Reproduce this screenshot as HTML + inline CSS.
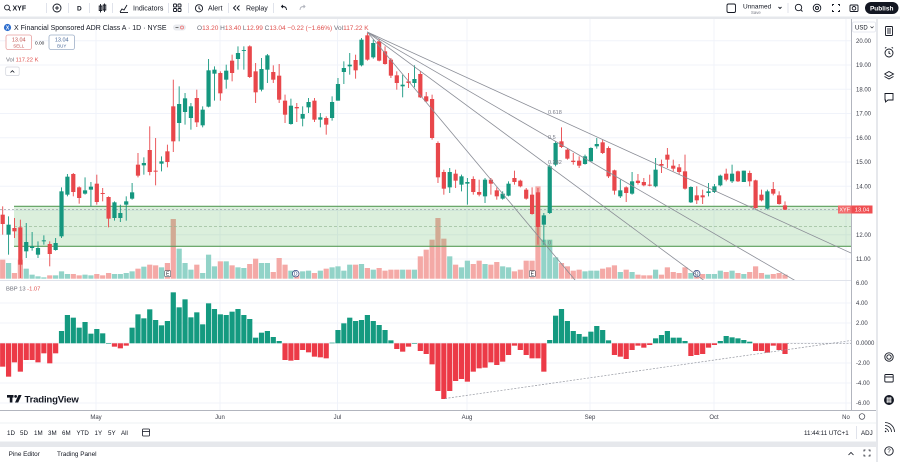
<!DOCTYPE html>
<html><head><meta charset="utf-8">
<style>
html,body{margin:0;padding:0;background:#fff;}
body{width:900px;height:462px;overflow:hidden;}
svg text{font-family:"Liberation Sans",sans-serif;}
</style></head><body>
<svg id="s" width="900" height="462" viewBox="0 0 900 462" xmlns="http://www.w3.org/2000/svg">
<defs>
<clipPath id="cm"><rect x="0" y="19" width="851" height="261"/></clipPath>
<clipPath id="ci"><rect x="0" y="281" width="851" height="129"/></clipPath>
</defs>
<rect x="0" y="0" width="900" height="462" fill="#fff"/>
<!-- gaps -->
<rect x="0" y="16.5" width="900" height="2.5" fill="#e6e8ec"/>
<rect x="876" y="16.5" width="2" height="446" fill="#e6e8ec"/>
<rect x="0" y="441.5" width="876" height="5.5" fill="#e6e8ec"/>

<!-- toolbar -->
<g fill="none" stroke="#131722" stroke-width="0.9">
<circle cx="7" cy="7.5" r="2.4"/><line x1="8.8" y1="9.3" x2="10.6" y2="11.1"/>
<circle cx="57" cy="8" r="4"/><line x1="55" y1="8" x2="59" y2="8"/><line x1="57" y1="6" x2="57" y2="10"/>
<line x1="100.5" y1="4" x2="100.5" y2="12.5"/><rect x="99.2" y="6" width="2.6" height="4.5"/>
<line x1="104.5" y1="3.5" x2="104.5" y2="12"/><rect x="103.2" y="5" width="2.6" height="5"/>
<polyline points="120,12 122,9 124,10 127,5"/><line x1="120" y1="12.5" x2="128" y2="12.5"/>
<rect x="173.5" y="4" width="3" height="3" rx="0.8"/><rect x="178" y="4" width="3" height="3" rx="0.8"/>
<rect x="173.5" y="8.5" width="3" height="3" rx="0.8"/><rect x="178" y="8.5" width="3" height="3" rx="0.8"/>
<circle cx="199" cy="8.3" r="3.6"/><polyline points="199,6.3 199,8.5 200.6,9.5"/>
<polyline points="236,5.5 233.5,8 236,10.5"/><polyline points="239.5,5.5 237,8 239.5,10.5"/>
<path d="M286.5 10 Q286.5 6.5 283 6.5 L281.5 6.5 M283 5 L281.5 6.5 L283 8"/>
<path d="M300 10 Q300 6.5 303.5 6.5 L305 6.5 M303.5 5 L305 6.5 L303.5 8" stroke="#b2b5be"/>
<rect x="727" y="4" width="8.5" height="8.5" rx="1.5"/>
<polyline points="778.5,7 780,8.5 781.5,7"/>
<circle cx="798.5" cy="7.5" r="3.2"/><line x1="800.8" y1="9.8" x2="802.5" y2="11.5"/>
<circle cx="817" cy="8" r="3.8"/><circle cx="817" cy="8" r="1.5"/>
<path d="M832.5 6 V4.5 H834 M838 4.5 H839.5 V6 M839.5 10 V11.5 H838 M834 11.5 H832.5 V10"/>
<rect x="850" y="5" width="8" height="6.5" rx="1"/><circle cx="854" cy="8.3" r="1.8"/>
</g>
<g stroke="#e0e3eb" stroke-width="1">
<line x1="46.5" y1="3" x2="46.5" y2="13"/><line x1="68.5" y1="3" x2="68.5" y2="13"/>
<line x1="89.5" y1="3" x2="89.5" y2="13"/><line x1="112.5" y1="3" x2="112.5" y2="13"/>
<line x1="168.5" y1="3" x2="168.5" y2="13"/><line x1="188.5" y1="3" x2="188.5" y2="13"/>
<line x1="228.5" y1="3" x2="228.5" y2="13"/><line x1="273.5" y1="3" x2="273.5" y2="13"/>
<line x1="788" y1="3" x2="788" y2="13"/>
</g>
<g fill="#131722" font-size="7">
<text x="12.5" y="10.3" font-weight="bold">XYF</text>
<text x="77" y="10.3" font-weight="bold" font-size="6.5">D</text>
<text x="133" y="10.3">Indicators</text>
<text x="208" y="10.3">Alert</text>
<text x="246" y="10.3">Replay</text>
<text x="743" y="8.5" font-size="6.5">Unnamed</text>
<text x="751" y="14" font-size="4.3" fill="#787b86">Save</text>
</g>
<rect x="865" y="2" width="33.5" height="12" rx="6" fill="#131722"/>
<text x="881.7" y="10.3" font-size="6.5" font-weight="bold" fill="#fff" text-anchor="middle">Publish</text>

<!-- right sidebar icons -->
<g fill="none" stroke="#131722" stroke-width="0.9">
<rect x="885.5" y="26.5" width="7" height="9" rx="0.8"/><line x1="887" y1="29" x2="891" y2="29"/><line x1="887" y1="31" x2="891" y2="31"/><line x1="887" y1="33" x2="891" y2="33"/>
<circle cx="889" cy="53" r="4"/><polyline points="889,51 889,53.3 890.5,54"/><line x1="885" y1="48.3" x2="886.3" y2="47.2"/><line x1="893" y1="48.3" x2="891.7" y2="47.2"/>
<polyline points="884.5,74 889,71.5 893.5,74 889,76.5 884.5,74"/><polyline points="884.5,76.5 889,79 893.5,76.5"/>
<path d="M885 93.5 H893 V100 H888 L885.5 102 V100 H885 Z"/>
<circle cx="889" cy="357" r="4.2"/><circle cx="889" cy="357" r="2.2"/>
<rect x="884.8" y="374.5" width="8.4" height="7.5" rx="1"/><line x1="884.8" y1="377" x2="893.2" y2="377"/>
<path d="M885 428.5 A3.5 3.5 0 0 1 888.5 432 M885 425.5 A6.5 6.5 0 0 1 891.5 432 M885 422.5 A9.5 9.5 0 0 1 894.5 432" stroke-width="0.8"/>
<circle cx="889" cy="451" r="4.2"/>
</g>
<circle cx="885.6" cy="431.4" r="0.8" fill="#131722"/>
<circle cx="889" cy="400" r="5" fill="#131722"/>
<g stroke="#fff" stroke-width="0.7"><line x1="886.5" y1="398.2" x2="891.5" y2="398.2"/><line x1="886.5" y1="400" x2="891.5" y2="400"/><line x1="886.5" y1="401.8" x2="891.5" y2="401.8"/><line x1="887.2" y1="397" x2="887.2" y2="403"/><line x1="889" y1="397" x2="889" y2="403"/><line x1="890.8" y1="397" x2="890.8" y2="403"/></g>
<text x="889" y="453.2" font-size="6" fill="#131722" text-anchor="middle">?</text>

<!-- grids -->
<g id="grid" stroke="#f0f3fa" stroke-width="1"></g>
<g id="vol" clip-path="url(#cm)"></g>
<g id="zone" clip-path="url(#cm)"></g>
<g id="cand" clip-path="url(#cm)"></g>
<g id="fan" clip-path="url(#cm)" stroke="#8a8d96" stroke-width="0.8" fill="none"></g>
<g id="bbp" clip-path="url(#ci)"></g>

<!-- pane borders -->
<line x1="0" y1="280.5" x2="851" y2="280.5" stroke="#e0e3eb"/>
<line x1="851.5" y1="19" x2="851.5" y2="410" stroke="#b2b5be" stroke-width="1"/>
<line x1="0" y1="410.5" x2="876" y2="410.5" stroke="#b2b5be" stroke-width="1"/>
<line x1="0" y1="423" x2="876" y2="423" stroke="#eef0f3"/>
<line x1="856.5" y1="426" x2="856.5" y2="439" stroke="#e0e3eb"/>

<!-- legend -->
<circle cx="7.5" cy="27.5" r="3.6" fill="#2f6fce"/>
<text x="7.5" y="29.6" font-size="5" fill="#fff" text-anchor="middle" font-weight="bold">X</text>
<text x="14" y="30" font-size="7" fill="#131722">X Financial Sponsored ADR Class A · 1D · NYSE</text>
<rect x="173" y="24.5" width="13" height="6" rx="3" fill="#e9ebef"/>
<line x1="175.5" y1="27.5" x2="178.5" y2="27.5" stroke="#555" stroke-width="0.8"/>
<circle cx="182" cy="27.5" r="1.5" fill="none" stroke="#f06a6a" stroke-width="0.7"/>
<text x="197" y="30" font-size="6.5" fill="#e0504d"><tspan fill="#6a6d78">O</tspan>13.20 <tspan fill="#6a6d78">H</tspan>13.40 <tspan fill="#6a6d78">L</tspan>12.99 <tspan fill="#6a6d78">C</tspan>13.04 −0.22 (−1.66%) <tspan fill="#6a6d78">Vol</tspan>117.22 K</text>
<rect x="6" y="35" width="25.5" height="14.5" rx="2" fill="#fff" stroke="#e8a0a0" stroke-width="0.8"/>
<text x="18.7" y="41.5" font-size="5.5" fill="#c0504d" text-anchor="middle">13.04</text>
<text x="18.7" y="47.5" font-size="4.5" fill="#c0504d" text-anchor="middle">SELL</text>
<text x="35" y="44.5" font-size="4.8" fill="#131722">0.00</text>
<rect x="49" y="35" width="25.5" height="14.5" rx="2" fill="#fff" stroke="#9fb0c8" stroke-width="0.8"/>
<text x="61.7" y="41.5" font-size="5.5" fill="#4a6a9a" text-anchor="middle">13.04</text>
<text x="61.7" y="47.5" font-size="4.5" fill="#4a6a9a" text-anchor="middle">BUY</text>
<text x="6" y="61.5" font-size="5.8" fill="#6a6d78">Vol <tspan fill="#e0504d">117.22 K</tspan></text>
<rect x="5.7" y="67" width="13.5" height="8.5" rx="1.5" fill="#fff" stroke="#d1d4dc" stroke-width="0.7"/>
<polyline points="10.5,72.5 12.4,70.7 14.3,72.5" fill="none" stroke="#131722" stroke-width="0.8"/>
<text x="6" y="290.5" font-size="5.8" fill="#6a6d78">BBP 13 <tspan fill="#e0504d">-1.07</tspan></text>

<!-- TradingView logo -->
<g fill="#131722">
<rect x="7" y="395" width="6.5" height="2.6"/><rect x="9.8" y="395" width="2.6" height="7.5"/>
<circle cx="15.6" cy="396.4" r="1.4"/><polygon points="18.5,395 21.6,395 18.2,402.5 15,402.5"/>
</g>
<text x="24.5" y="402.5" font-size="9.6" fill="#131722" font-weight="bold" letter-spacing="-0.2">TradingView</text>

<!-- axis labels -->
<g id="axl" font-size="6" fill="#3a3d48"></g>
<rect x="852.5" y="22" width="23" height="10" rx="1.5" fill="#fff" stroke="#e0e3eb" stroke-width="0.7"/>
<text x="855" y="29.5" font-size="6" fill="#131722">USD</text>
<polyline points="870.5,26.5 872,28 873.5,26.5" fill="none" stroke="#131722" stroke-width="0.6"/>

<!-- time axis -->
<g font-size="6" fill="#3a3d48" text-anchor="middle">
<text x="96" y="419">May</text><text x="220" y="419">Jun</text><text x="337.5" y="419">Jul</text>
<text x="467" y="419">Aug</text><text x="590" y="419">Sep</text><text x="714" y="419">Oct</text><text x="846" y="419">No</text>
</g>
<circle cx="862" cy="416.5" r="2.8" fill="none" stroke="#3a3d48" stroke-width="0.7"/>
<g font-size="6.2" fill="#131722">
<text x="7" y="435">1D</text><text x="20" y="435">5D</text><text x="34" y="435">1M</text><text x="48" y="435">3M</text>
<text x="62" y="435">6M</text><text x="76.5" y="435">YTD</text><text x="94.5" y="435">1Y</text><text x="108" y="435">5Y</text><text x="121" y="435">All</text>
<text x="804" y="435">11:44:11 UTC+1</text><text x="861" y="435">ADJ</text>
</g>
<g fill="none" stroke="#131722" stroke-width="0.8">
<rect x="142.5" y="429" width="7" height="7" rx="0.8"/><line x1="142.5" y1="431.5" x2="149.5" y2="431.5"/>
<polyline points="848.5,455 851,452.5 853.5,455"/>
<path d="M864 451.5 V450 H865.5 M868.5 450 H870 V451.5 M870 454.5 V456 H868.5 M865.5 456 H864 V454.5"/>
</g>
<g font-size="6.4" fill="#131722">
<text x="8.6" y="456">Pine Editor</text><text x="57" y="456">Trading Panel</text>
</g>
</svg>
<script>
(function(){
var NS="http://www.w3.org/2000/svg";
function el(tag,a,p,t){var e=document.createElementNS(NS,tag);for(var k in a)e.setAttribute(k,a[k]);if(t!=null)e.textContent=t;p.appendChild(e);return e;}
var g=function(id){return document.getElementById(id);};
var S=5.882,X0=2.7;
function xi(i){return X0+i*S;}
function zy(z){return 28+z/3;}
var TEAL="#15977f",RED="#e8474b";
var grid=g("grid"),axl=g("axl");
var vx=[96,220,337.5,467,590,714,846];
vx.forEach(function(x){el("line",{x1:x,y1:19,x2:x,y2:410},grid);});
for(var k=0;k<10;k++){var y=40.7+k*24.25;el("line",{x1:0,y1:y,x2:851,y2:y},grid);el("text",{x:856,y:y+2.1},axl,(20-k).toFixed(2));}
var il=["6.00","4.00","2.00","0.0000","-2.00","-4.00","-6.00"];
for(var k=0;k<7;k++){var y=283+k*20;if(k>0)el("line",{x1:0,y1:y,x2:851,y2:y},grid);el("text",{x:856,y:y+2.1},axl,il[k]);}
var C=[[560,588,535,620,0],[590,620,565,680,1],[600,610,570,630,0],[598,710,575,750,0],[642,670,585,690,1],[655,660,612,668,1],[660,680,640,690,1],[637,640,622,650,1],[648,678,640,715,0],[645,666,630,668,1],
[490,625,478,630,1],[446,500,438,505,1],[438,492,435,505,0],[478,510,475,527,0],[487,497,448,500,1],[476,485,462,535,1],[467,522,440,530,0],[495,498,480,520,0],[507,572,505,598,0],[523,570,520,578,1],
[555,570,530,582,1],[520,530,505,578,1],[493,512,465,515,1],[410,443,375,448,0],[405,412,388,440,1],[366,432,295,442,0],[428,431,330,472,0],[400,407,385,430,1],[370,402,350,418,0],[235,340,155,372,0],
[228,285,175,340,1],[211,252,195,290,1],[235,270,225,305,1],[210,283,185,297,0],[245,292,235,298,1],[127,236,93,238,1],[125,137,115,218,1],[135,196,130,218,0],[128,155,110,182,1],[98,135,80,160,0],
[75,93,55,125,1],[66,68,55,125,1],[55,147,52,150,0],[130,193,105,225,0],[123,185,90,190,1],[82,125,78,165,1],[132,155,112,165,0],[143,215,108,225,0],[218,260,200,285,0],[233,288,212,290,1],
[237,241,225,282,0],[258,272,235,295,1],[222,238,210,255,1],[218,275,210,282,0],[268,275,255,298,1],[270,290,265,320,0],[222,270,205,278,1],[168,218,150,218,1],[120,132,100,168,1],[110,115,75,140,1],
[96,127,80,152,0],[35,112,30,115,1],[22,95,15,98,0],[45,88,35,92,1],[40,98,32,100,0],[70,108,55,110,0],[95,143,90,150,0],[142,165,130,185,0],[170,175,140,208,1],[160,165,135,180,0],
[153,165,112,178,1],[138,208,130,210,0],[205,220,192,222,0],[213,330,200,335,0],[345,448,340,465,0],[432,482,425,500,0],[432,478,420,495,1],[437,458,425,480,0],[445,470,440,490,1],[462,467,450,530,1],
[453,492,445,500,0],[492,500,455,505,0],[455,505,450,525,1],[455,467,450,500,0],[487,505,478,515,0],[497,512,490,515,1],[467,503,460,505,1],[450,462,428,470,0],[458,475,455,478,0],[485,512,480,515,0],
[500,558,478,560,0],[493,597,480,650,0],[562,590,555,650,1],[415,555,410,558,1],[345,410,340,415,1],[340,357,298,360,0],[365,392,360,395,0],[398,402,375,410,0],[398,413,385,420,0],[385,408,380,410,1],
[360,400,358,402,1],[348,355,330,362,1],[343,375,335,378,0],[360,445,355,450,0],[427,488,425,500,0],[487,505,455,510,1],[478,495,475,522,0],[460,497,432,500,1],[458,465,438,470,0],[462,472,450,475,0],
[470,473,440,475,0],[425,475,390,478,1],[408,413,395,435,0],[380,395,360,420,0],[413,422,395,430,0],[418,432,408,440,0],[430,482,380,485,0],[477,523,475,525,1],[502,517,475,528,0],[502,508,485,528,0],
[490,495,465,505,1],[475,492,468,495,1],[443,472,440,475,1],[437,455,422,460,0],[437,460,410,465,1],[430,460,428,462,0],[428,462,428,462,1],[435,460,428,475,0],[457,540,455,542,0],[500,517,485,520,0],
[490,542,485,545,1],[483,497,462,502,0],[502,528,490,530,0],[532,545,520,546,0]];
var V=[695,705,735,695,722,740,745,748,742,742,730,738,738,742,740,742,738,742,735,738,738,735,730,722,716,710,712,718,705,573,662,705,725,710,735,680,715,700,700,712,718,720,708,692,705,705,732,690,710,728,735,
730,728,735,728,722,718,715,728,710,710,708,720,725,720,728,725,725,725,725,725,685,665,635,570,632,685,710,718,698,708,698,708,710,702,715,718,730,725,698,698,475,635,635,688,705,715,728,725,730,
728,728,722,718,712,732,725,732,740,742,742,725,740,718,732,735,718,735,728,738,738,738,728,732,728,735,738,732,715,735,740,738,735,740];
var B=[275,305,262,290,255,255,262,235,265,235,168,120,128,158,141,176,162,175,205,215,220,212,158,118,130,103,135,151,138,52,97,73,127,112,148,85,102,118,120,110,102,120,132,188,173,168,186,198,255,257,
255,225,232,245,247,250,203,165,145,128,138,135,120,138,150,165,196,222,230,215,205,228,237,268,348,372,348,318,312,320,290,280,278,262,270,260,240,212,225,240,250,250,290,195,122,102,138,168,177,185,
170,153,165,196,240,245,252,225,212,218,210,190,180,168,188,188,198,243,240,237,218,210,198,183,187,190,195,200,228,228,233,212,225,237];
var vol=g("vol"),cand=g("cand"),bbp=g("bbp");
var VB=278.7;
for(var i=0;i<C.length;i++){
 var c=C[i],x=xi(i),col=c[4]?TEAL:RED;
 var vt=zy(V[i]);
 el("rect",{x:x-2.6,y:vt,width:5.2,height:Math.max(0.5,VB-vt),fill:c[4]?"#92d3c8":"#f4a9a6"},vol);
 el("line",{x1:x,y1:zy(c[2]),x2:x,y2:zy(c[3]),stroke:col,"stroke-width":0.9},cand);
 var t=zy(c[0]),h=Math.max(0.9,(c[1]-c[0])/3);
 el("rect",{x:x-2.1,y:t,width:4.2,height:h,fill:col},cand);
}
var Z=343.3;
for(var i=0;i<B.length;i++){
 var x=xi(i),y=275+B[i]/3,up=B[i]<=205;
 var top=Math.min(y,Z),hh=Math.abs(y-Z);
 if(hh<0.6){hh=0.6;top=Z-0.3;}
 el("rect",{x:x-2.6,y:top,width:5.2,height:hh,fill:up?"#149a80":"#ec3a47"},bbp);
}
el("line",{x1:445,y1:398.5,x2:851,y2:340.5,stroke:"#9598a1","stroke-width":0.7,"stroke-dasharray":"2 1.5"},bbp);
el("line",{x1:787,y1:343.3,x2:851,y2:343.3,stroke:"#9598a1","stroke-width":0.7,"stroke-dasharray":"2 1.5"},bbp);
var zone=g("zone");
el("rect",{x:14,y:206.3,width:837,height:40,fill:"rgba(76,175,80,0.2)"},zone);
el("line",{x1:14,y1:206.3,x2:851,y2:206.3,stroke:"#5a9e5a","stroke-width":1.2},zone);
el("line",{x1:14,y1:246.3,x2:851,y2:246.3,stroke:"#5a9e5a","stroke-width":1.2},zone);
el("line",{x1:14,y1:226.3,x2:851,y2:226.3,stroke:"#8fb58f","stroke-width":0.7,"stroke-dasharray":"3 2"},zone);
el("line",{x1:0,y1:209.5,x2:851,y2:209.5,stroke:"#a0a3ab","stroke-width":0.7,"stroke-dasharray":"2 2"},zone);
var fan=g("fan"),ox=367.3,oy=32;
[0.457,0.581,0.738,1.194].forEach(function(s){var x2=851,y2=oy+s*(x2-ox);if(y2>281){y2=281;x2=ox+(y2-oy)/s;}el("line",{x1:ox,y1:oy,x2:x2,y2:y2},fan);});
var fl=[["0.618",114],["0.5",139],["0.382",164],["0",244.5]];
fl.forEach(function(f){el("text",{x:548,y:f[1],"font-size":5.5,fill:"#787b86",stroke:"none"},fan,f[0]);});
[[167.7,"E"],[532.3,"E"]].forEach(function(m){el("rect",{x:m[0]-3,y:270.7,width:6,height:6,rx:0.8,fill:"#fff",stroke:"#50535e","stroke-width":0.6},cand);el("text",{x:m[0],y:275.6,"font-size":5,"text-anchor":"middle",fill:"#131722"},cand,m[1]);});
[295.7,696.7].forEach(function(x){el("circle",{cx:x,cy:273.7,r:3.3,fill:"#fff",stroke:"#2a3f7a","stroke-width":0.7},cand);el("text",{x:x,y:275.6,"font-size":5,"text-anchor":"middle",fill:"#2a3f7a"},cand,"D");});
var s=document.getElementById("s");
el("rect",{x:838,y:205.5,width:13.5,height:8,fill:"#f26d6d"},s);
el("rect",{x:851.5,y:205.5,width:21,height:8,fill:"#ef4f52"},s);
el("text",{x:844.7,y:211.6,"font-size":5.5,fill:"#fff","text-anchor":"middle"},s,"XYF");
el("text",{x:862,y:211.6,"font-size":5.8,fill:"#fff","text-anchor":"middle"},s,"13.04");
})();
</script>
</body></html>
